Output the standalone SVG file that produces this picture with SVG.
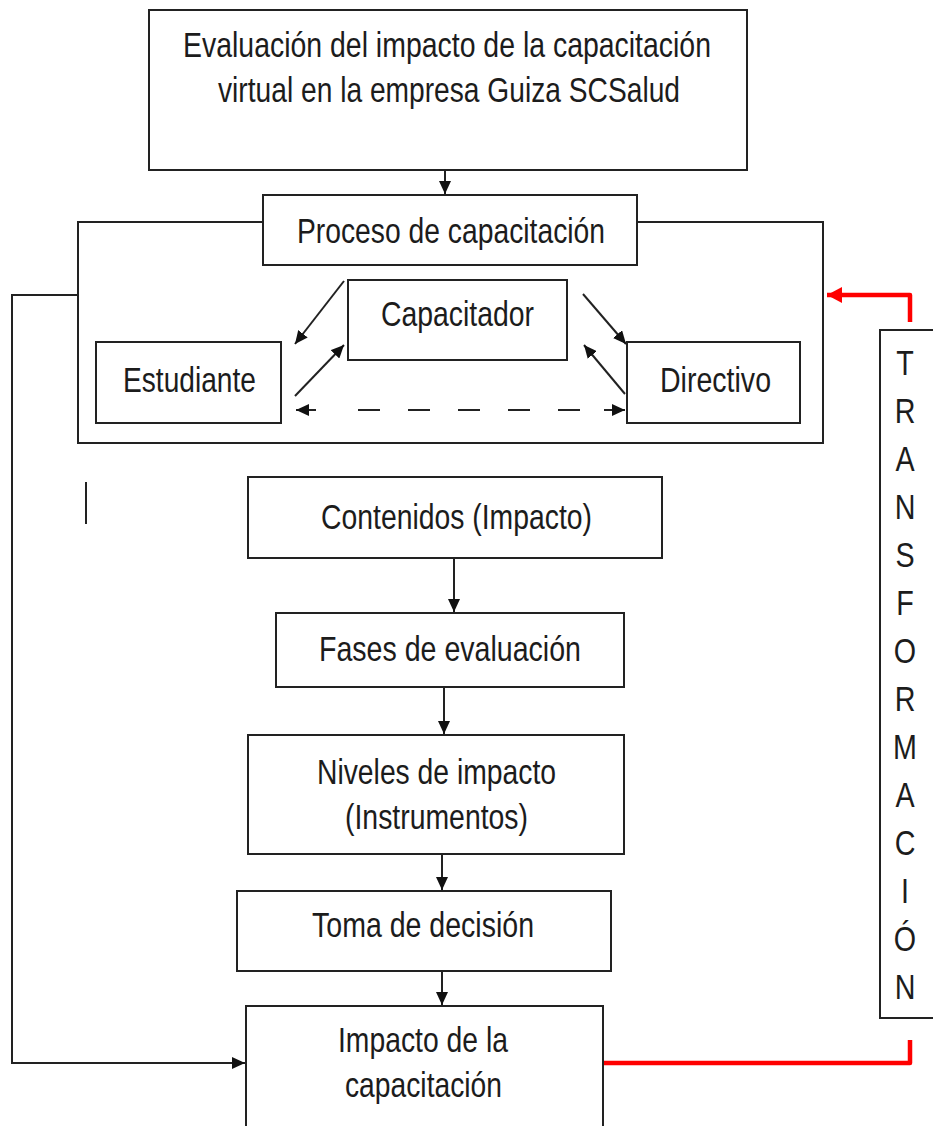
<svg xmlns="http://www.w3.org/2000/svg" width="933" height="1126" viewBox="0 0 933 1126">
<defs>
<style>
.box{fill:#fff;stroke:#222;stroke-width:2}
.ln{fill:none;stroke:#222;stroke-width:2}
.red{fill:none;stroke:#f00;stroke-width:4.5;stroke-linejoin:round}
.t{font-family:"Liberation Sans",Arial,sans-serif;font-size:35px;fill:#1c1c1c;text-anchor:middle}
</style>
<marker id="ah" markerUnits="userSpaceOnUse" markerWidth="14" markerHeight="12" refX="13" refY="6" orient="auto">
<path d="M0,0 L13,6 L0,12 z" fill="#111"/>
</marker>
<marker id="ahs" markerUnits="userSpaceOnUse" markerWidth="14" markerHeight="12" refX="0" refY="6" orient="auto">
<path d="M13,0 L0,6 L13,12 z" fill="#111"/>
</marker>
<marker id="rah" markerUnits="userSpaceOnUse" markerWidth="16" markerHeight="16" refX="15" refY="8" orient="auto">
<path d="M0,0 L15,8 L0,16 z" fill="#f00"/>
</marker>
</defs>
<rect width="933" height="1126" fill="#fff"/>

<g id="connectors">
<path class="ln" d="M263,222 H78 V443 H823 V222 H637"/>
<path class="ln" d="M78,295 H12 V1063 H245" marker-end="url(#ah)"/>
<path class="ln" d="M445,170 V194" marker-end="url(#ah)"/>
<path class="ln" d="M344,281 L295,344" marker-end="url(#ah)"/>
<path class="ln" d="M295,396 L344,345" marker-end="url(#ah)"/>
<path class="ln" d="M583,294 L626,344" marker-end="url(#ah)"/>
<path class="ln" d="M625,394 L584,345" marker-end="url(#ah)"/>
<path class="ln" d="M316,410 H296" marker-end="url(#ah)"/>
<path class="ln" d="M358,410 H580" stroke-dasharray="22 28"/>
<path class="ln" d="M604,410 H625" marker-end="url(#ah)"/>
<path class="ln" d="M86,482 V524"/>
<path class="ln" d="M454,558 V612" marker-end="url(#ah)"/>
<path class="ln" d="M444,687 V734" marker-end="url(#ah)"/>
<path class="ln" d="M442,854 V890" marker-end="url(#ah)"/>
<path class="ln" d="M442,971 V1005" marker-end="url(#ah)"/>
<path class="red" d="M910,322 V295 H827" marker-end="url(#rah)"/>
<path class="red" d="M604,1063 H910 V1040"/>
</g>

<g id="n-titulo">
<rect class="box" x="149" y="10" width="598" height="160"/>
<text class="t" x="447" y="57" textLength="528" lengthAdjust="spacingAndGlyphs">Evaluación del impacto de la capacitación</text>
<text class="t" x="449" y="102" textLength="462" lengthAdjust="spacingAndGlyphs">virtual en la empresa Guiza SCSalud</text>
</g>
<g id="n-proceso">
<rect class="box" x="263" y="195" width="374" height="70"/>
<text class="t" x="451" y="243" textLength="308" lengthAdjust="spacingAndGlyphs">Proceso de capacitación</text>
</g>
<g id="n-capacitador">
<rect class="box" x="348" y="280" width="219" height="80"/>
<text class="t" x="457.5" y="326" textLength="153" lengthAdjust="spacingAndGlyphs">Capacitador</text>
</g>
<g id="n-estudiante">
<rect class="box" x="96" y="342" width="185" height="81"/>
<text class="t" x="189.5" y="392" textLength="133" lengthAdjust="spacingAndGlyphs">Estudiante</text>
</g>
<g id="n-directivo">
<rect class="box" x="627" y="342" width="173" height="81"/>
<text class="t" x="715.5" y="392" textLength="111" lengthAdjust="spacingAndGlyphs">Directivo</text>
</g>
<g id="n-contenidos">
<rect class="box" x="248" y="477" width="414" height="81"/>
<text class="t" x="456.5" y="529" textLength="271" lengthAdjust="spacingAndGlyphs">Contenidos (Impacto)</text>
</g>
<g id="n-fases">
<rect class="box" x="276" y="613" width="348" height="74"/>
<text class="t" x="450" y="661" textLength="262" lengthAdjust="spacingAndGlyphs">Fases de evaluación</text>
</g>
<g id="n-niveles">
<rect class="box" x="248" y="735" width="376" height="119"/>
<text class="t" x="436.5" y="784" textLength="239" lengthAdjust="spacingAndGlyphs">Niveles de impacto</text>
<text class="t" x="436.5" y="829" textLength="183" lengthAdjust="spacingAndGlyphs">(Instrumentos)</text>
</g>
<g id="n-toma">
<rect class="box" x="237" y="891" width="374" height="80"/>
<text class="t" x="423" y="937" textLength="222" lengthAdjust="spacingAndGlyphs">Toma de decisión</text>
</g>
<g id="n-impacto">
<rect class="box" x="246" y="1006" width="357" height="140"/>
<text class="t" x="423" y="1052" textLength="170" lengthAdjust="spacingAndGlyphs">Impacto de la</text>
<text class="t" x="423.5" y="1097" textLength="157" lengthAdjust="spacingAndGlyphs">capacitación</text>
</g>
<g id="n-transformacion">
<rect class="box" x="880" y="330" width="70" height="688"/>
<g transform="translate(905,0) scale(0.82,1)">
<text class="t" x="0" y="375">T</text>
<text class="t" x="0" y="423">R</text>
<text class="t" x="0" y="471">A</text>
<text class="t" x="0" y="519">N</text>
<text class="t" x="0" y="567">S</text>
<text class="t" x="0" y="615">F</text>
<text class="t" x="0" y="663">O</text>
<text class="t" x="0" y="711">R</text>
<text class="t" x="0" y="759">M</text>
<text class="t" x="0" y="807">A</text>
<text class="t" x="0" y="855">C</text>
<text class="t" x="0" y="903">I</text>
<text class="t" x="0" y="951">Ó</text>
<text class="t" x="0" y="999">N</text>
</g>
</g>
</svg>
